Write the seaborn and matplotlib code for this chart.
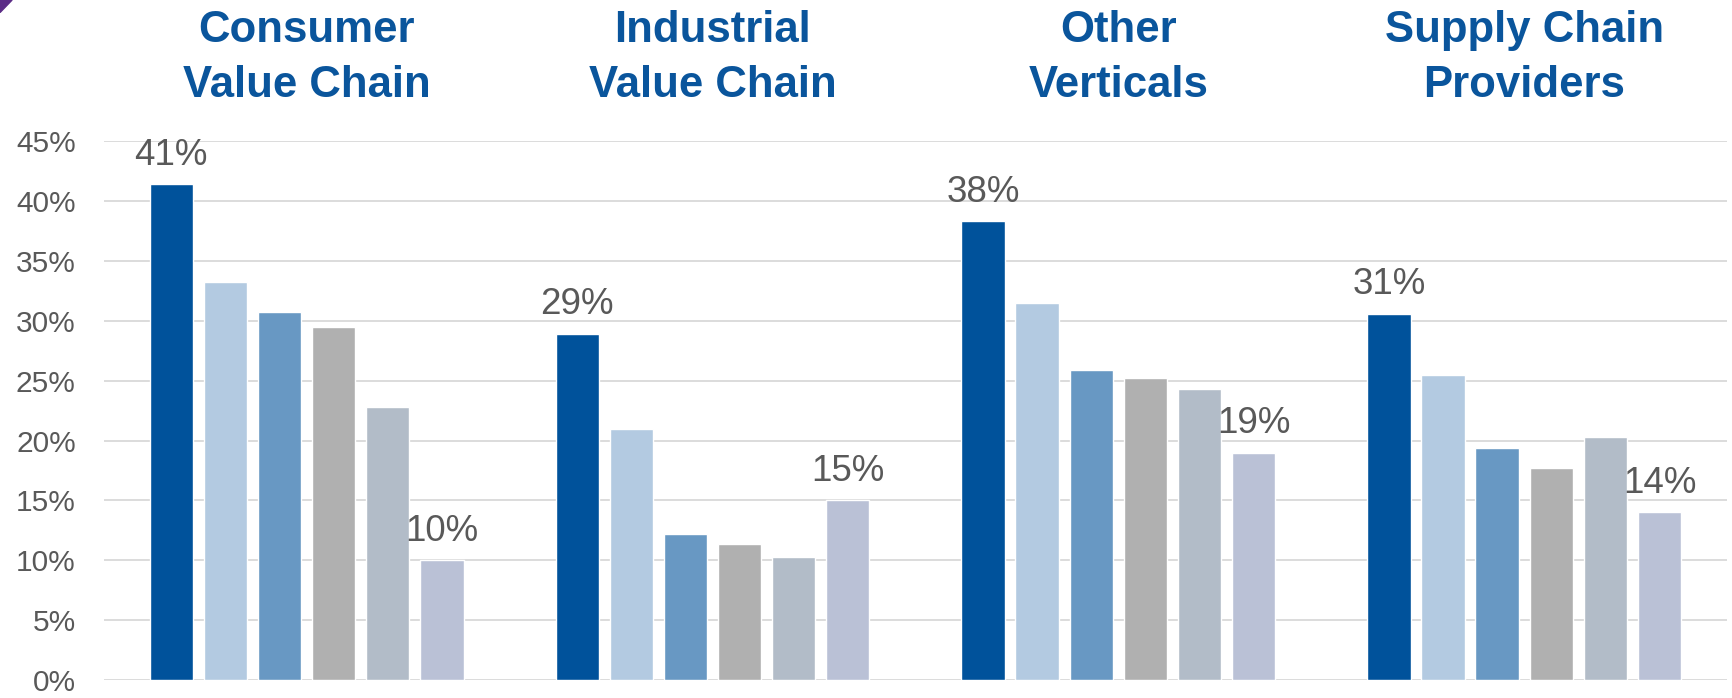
import pandas as pd
import matplotlib.pyplot as plt
import seaborn as sns
from matplotlib.patches import Polygon
from matplotlib.transforms import blended_transform_factory
from matplotlib.ticker import PercentFormatter

# ==========================
# Data
# ==========================
groups = ['Consumer\nValue Chain', 'Industrial\nValue Chain', 'Other\nVerticals', 'Supply Chain\nProviders']
series = ['s1', 's2', 's3', 's4', 's5', 's6']
consumer = [0.414, 0.332, 0.307, 0.295, 0.228, 0.100]
industrial = [0.289, 0.210, 0.122, 0.114, 0.103, 0.150]
other = [0.383, 0.315, 0.259, 0.252, 0.243, 0.190]
supply = [0.306, 0.255, 0.194, 0.177, 0.203, 0.140]
bar_colors = ['#00529B', '#B3CAE1', '#6898C3', '#B0B0B0', '#B2BCC8', '#BAC1D6']

rows = []
for g, vals in zip(groups, [consumer, industrial, other, supply]):
    for s, v in zip(series, vals):
        rows.append({'group': g, 'series': s, 'value': v})
df = pd.DataFrame(rows)

# ==========================
# Plot
# ==========================
sns.set_style('white')
plt.rcParams['font.family'] = ['Liberation Sans', 'DejaVu Sans']

fig = plt.figure(figsize=(17.33, 6.98), dpi=100)
ax = fig.add_axes([0.0598, 0.0255, 0.9368, 0.7725])

sns.barplot(data=df, x='group', y='value', hue='series', palette=bar_colors,
            gap=0.2, width=0.8, legend=False, saturation=1, ax=ax)

ax.set_ylim(0, 0.45)
ax.set_xlim(-0.5, 3.5)
ax.set_yticks([i * 0.05 for i in range(10)])
ax.yaxis.set_major_formatter(PercentFormatter(1.0, decimals=0))
ax.grid(axis='y', color='#D9D9D9', linewidth=1.3)
ax.set_axisbelow(True)
ax.tick_params(axis='y', length=0, labelsize=21.5, labelcolor='#595959', pad=20)
ax.set_xticks([])
ax.set_xlabel('')
ax.set_ylabel('')
sns.despine(ax=ax, left=True, bottom=True)

# data labels on first and last bar of each group
for idx in [0, len(series) - 1]:
    for bar in ax.containers[idx]:
        h = bar.get_height()
        ax.annotate(f'{h:.0%}', (bar.get_x() + bar.get_width() / 2, h),
                    xytext=(0, 14), textcoords='offset points',
                    ha='center', va='baseline', fontsize=26.5,
                    color='#595959', annotation_clip=False)

# group titles above the plot
trans = blended_transform_factory(ax.transData, fig.transFigure)
for i, g in enumerate(groups):
    line1, line2 = g.split('\n')
    ax.text(i, 0.956, line1, transform=trans, ha='center', va='center',
            fontsize=31.5, fontweight='bold', color='#0A559C')
    ax.text(i, 0.877, line2, transform=trans, ha='center', va='center',
            fontsize=31.5, fontweight='bold', color='#0A559C')

# small purple corner mark
fig.patches.append(Polygon([[0, 1], [0.007, 1], [0, 0.982]], closed=True,
                           transform=fig.transFigure, color='#5B2C86'))

plt.savefig('out.png', dpi=100)
